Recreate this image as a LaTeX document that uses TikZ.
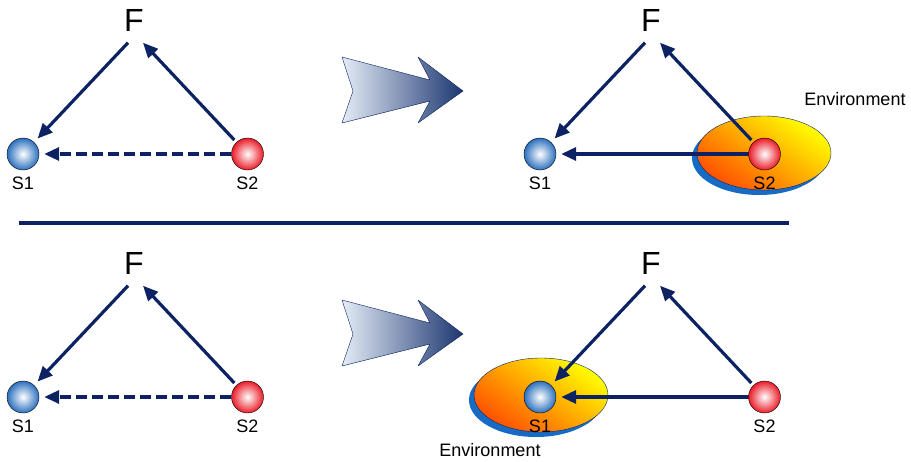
\documentclass[tikz,border=0pt]{standalone}
\usepackage{fontspec}
\setmainfont{Liberation Sans}
\usetikzlibrary{arrows.meta}
\definecolor{navy}{RGB}{12,34,98}
\definecolor{ballblue}{RGB}{44,112,190}
\definecolor{ballred}{RGB}{234,28,40}
\definecolor{envblue}{RGB}{22,108,196}
\definecolor{envred}{RGB}{255,80,0}
\definecolor{envorange}{RGB}{255,200,0}
\definecolor{envyel}{RGB}{255,255,0}
\definecolor{arrlight}{RGB}{228,236,246}
\definecolor{arrdark}{RGB}{28,54,112}
\tikzset{
	ballA/.style={circle,draw=black,thin,minimum size=32pt,inner sep=0pt,inner color=white,outer color=ballblue},
	ballB/.style={circle,draw=black,thin,minimum size=32pt,inner sep=0pt,inner color=white,outer color=ballred},
	fnode/.style={font=\fontsize{32}{32}\selectfont,inner sep=11.5pt},
	link/.style={draw=navy,line width=3.2pt,-{Triangle[length=15pt,width=13pt]},shorten >=5pt},
	dlink/.style={link,dash pattern=on 11pt off 5pt},
	envfill/.style={top color=envyel,middle color=envorange,bottom color=envred,shading angle=-35,draw=navy,thin},
	bigarrow/.style={left color=arrlight,right color=arrdark,draw=navy,thin}
}
\begin{document}
\begin{tikzpicture}[x=1pt,y=-1pt,font=\fontsize{18}{18}\selectfont,line join=round]
	\useasboundingbox (0,0) rectangle (911,461);
	% environments
	\foreach \cx/\cy in {764/153,541/395}{
		\fill[envblue] (\cx-5,\cy+5) ellipse (67 and 37);
		\shade[envfill] (\cx,\cy) ellipse (67 and 37);
	}
	% big arrows
	\foreach \dy in {0,243}
		\shade[bigarrow] (342,57+\dy) -- (430,80+\dy) -- (418,57+\dy) -- (463,91+\dy) -- (418,123+\dy) -- (430,101+\dy) -- (342,123+\dy) -- (353,91+\dy) -- cycle;
	\draw[navy,line width=3.5pt] (19,223) -- (789,223);
	% the four triangles
	\foreach \dx/\dy/\p in {0/0/a,517/0/b,0/243/c,517/243/d}{
		\node[fnode] (F\p) at (134+\dx,20+\dy) {F};
		\node[ballA] (S1\p) at (23+\dx,154+\dy) {};
		\node[ballB] (S2\p) at (247.5+\dx,154+\dy) {};
		\node (l1\p) at (23+\dx,183+\dy) {S1};
		\node (l2\p) at (247.5+\dx,183+\dy) {S2};
		\draw[link] ([xshift=-6]F\p.south) -- (S1\p);
		\draw[link,shorten <=3pt,shorten >=0pt] (S2\p) -- ([xshift=9]F\p.south);
	}
	\foreach \p in {a,c} \draw[dlink] (S2\p) -- (S1\p);
	\foreach \p in {b,d} \draw[link] (S2\p) -- (S1\p);
	\node (envb) at (855,99) {Environment};
	\node (envd) at (490,450) {Environment};
\end{tikzpicture}
\end{document}
